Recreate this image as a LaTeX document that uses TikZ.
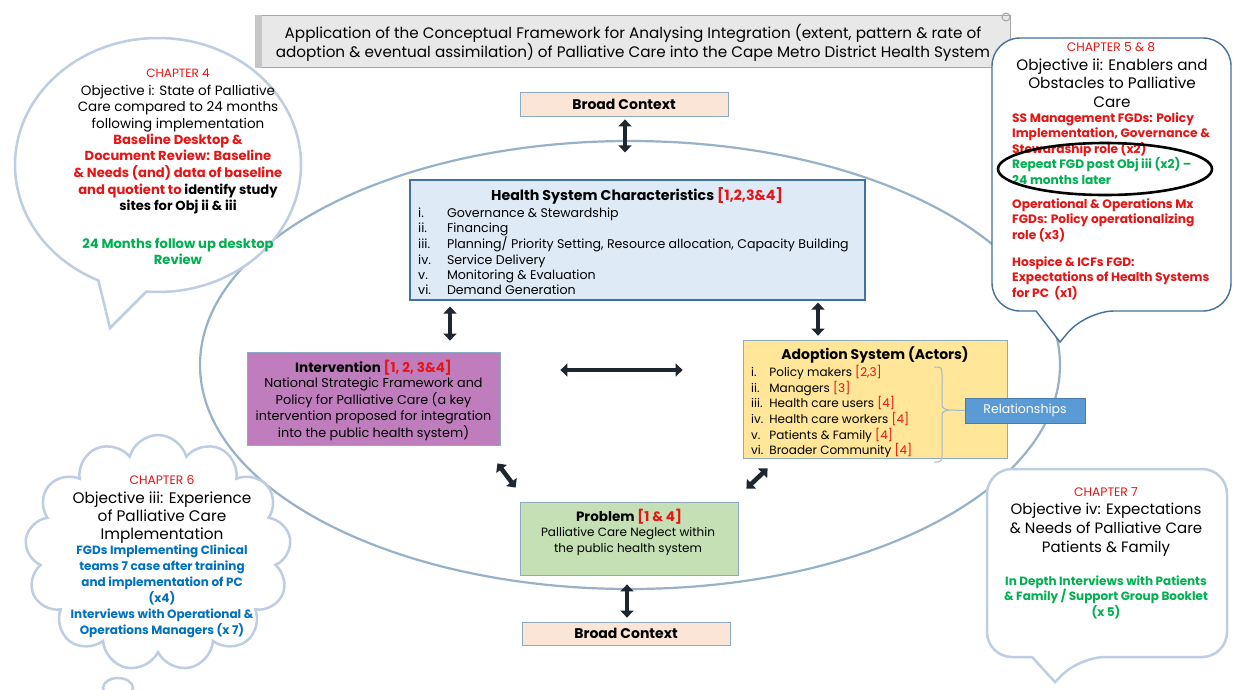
\documentclass[tikz,border=0pt]{standalone}
\usepackage{fontspec}
\setmainfont{Poppins}
\usetikzlibrary{shapes.callouts,shapes.symbols,arrows.meta,calc}
\definecolor{ptred}{RGB}{230,20,20}
\definecolor{ptgreen}{RGB}{0,176,80}
\definecolor{ptblue}{RGB}{0,112,192}
\definecolor{edgeblue}{RGB}{65,113,156}
\definecolor{softblue}{RGB}{190,205,225}
\definecolor{hsfill}{RGB}{222,235,247}
\definecolor{intfill}{RGB}{192,125,190}
\definecolor{adfill}{RGB}{255,230,153}
\definecolor{relfill}{RGB}{91,155,213}
\definecolor{probfill}{RGB}{197,224,180}
\definecolor{bcfill}{RGB}{251,229,214}
\definecolor{titlefill}{RGB}{232,232,232}
\definecolor{arrowdark}{RGB}{30,38,48}
\newcommand{\fsz}[2]{\fontsize{#1}{#2}\selectfont}
\begin{document}
\begin{tikzpicture}[x=1pt,y=-1pt,
  box/.style={draw=edgeblue!60, line width=0.8, inner sep=0pt},
  softbubble/.style={draw=softblue, line width=2.5, fill=white},
  strongbubble/.style={draw=edgeblue, line width=1.4, fill=white},
  dbl/.style={draw=arrowdark, line width=4.5, {Triangle[length=7pt,width=13pt]}-{Triangle[length=7pt,width=13pt]}},
  txt/.style={inner sep=0pt, align=center}
]
\useasboundingbox (0,0) rectangle (1233,689);
\fill[white] (0,0) rectangle (1233,689);

% big ellipse
\draw[edgeblue!55, line width=2.2] (630,365) ellipse [x radius=430, y radius=224];

% top-left bubble
\node[ellipse callout, softbubble, minimum width=286, minimum height=254, callout absolute pointer={(110,328)}, callout pointer arc=20] (bubA) at (158,165) {};
\node[txt, text=ptred, font=\fsz{12}{14}] (tlch) at (178,73) {CHAPTER 4};
\node[txt, font=\fsz{13.5}{16.7}] (tlobj) at (178,108.5) {Objective i: State of Palliative\\Care compared to 24 months\\following implementation};
\node[txt, text=ptred, font=\bfseries\fsz{13.1}{16.7}] (tlred) at (178,174) {Baseline Desktop \&\\Document Review: Baseline\\\& Needs (and) data of baseline\\and quotient to {\color{black}identify study}\\{\color{black}sites for Obj ii \& iii}};
\node[txt, text=ptgreen, font=\bfseries\fsz{13.1}{16.7}] (tlgreen) at (178,251.5) {24 Months follow up desktop\\Review};

% title scroll
\node[draw=gray!70, fill=titlefill, line width=1, minimum width=755, minimum height=52, anchor=north west, inner sep=0] (title) at (255,15) {};
\fill[gray!45] (title.north west) rectangle ($(title.south west)+(7,0)$);
\draw[gray!70, line width=1] ($(title.north east)+(-5,2)$) circle [radius=4];
\node[txt, font=\fsz{15.2}{19}] (titletxt) at (633,42.5) {Application of the Conceptual Framework for Analysing Integration (extent, pattern \& rate of\\adoption \& eventual assimilation) of Palliative Care into the Cape Metro District Health System};

% top-right bubble
\draw[strongbubble] (1060,342) -- (1036,311) [rounded corners=28] -- (992,311) -- (992,38) -- (1231,38) -- (1231,311) -- (1086,311) [sharp corners] -- cycle;
\node[txt, text=ptred, font=\fsz{12.3}{14}] (rch) at (1111,47) {CHAPTER 5 \& 8};
\node[txt, font=\fsz{15.2}{18.5}] (robj) at (1112,83) {Objective ii: Enablers and\\Obstacles to Palliative\\Care};
\node[inner sep=0pt, align=left, anchor=north west, text=ptred, font=\bfseries\fsz{12.2}{15.5}] (rlist) at (1012,112.5) {SS Management FGDs: Policy\\
  Implementation, Governance \&\\
  Stewardship role (x2)\\
  {\color{ptgreen}Repeat FGD post Obj iii (x2) –}\\
  {\color{ptgreen}24 months later}\\[8.5pt]
  Operational \& Operations Mx\\
  FGDs: Policy operationalizing\\
  role (x3)\\[11.5pt]
  Hospice \& ICFs FGD:\\
  Expectations of Health Systems\\
  for PC\ \ (x1)};
\draw[black, line width=2.6] (1105,169) ellipse [x radius=107, y radius=26];

% broad context top
\node[box, fill=bcfill, minimum width=208, minimum height=24, font=\bfseries\fsz{14}{15}] (bctop) at (624,104.5) {Broad Context};

% health system
\node[draw=edgeblue, line width=1.2, fill=hsfill, minimum width=455, minimum height=120, inner sep=0] (hs) at (637.5,240) {};
\node[txt, font=\bfseries\fsz{14.2}{16}] (hstitle) at (637,196) {Health System Characteristics {\color{ptred}[1,2,3\&4]}};
\node[inner sep=0pt, align=left, anchor=north west, font=\fsz{12.6}{15.2}] (hslist) at (418,206.5) {%
  \begin{tabular}{@{}l@{\hspace{16pt}}l@{}}
  i. & Governance \& Stewardship\\
  ii. & Financing\\
  iii. & Planning/ Priority Setting, Resource allocation, Capacity Building\\
  iv. & Service Delivery\\
  v. & Monitoring \& Evaluation\\
  vi. & Demand Generation
  \end{tabular}};

% intervention
\node[box, fill=intfill, minimum width=253, minimum height=93] (int) at (373.5,398.5) {};
\node[txt, font=\bfseries\fsz{13.5}{15}] (inttitle) at (373.5,368) {Intervention {\color{ptred}[1, 2, 3\&4]}};
\node[txt, font=\fsz{12.8}{16.5}] (intbody) at (373.5,409.5) {National Strategic Framework and\\Policy for Palliative Care (a key\\intervention proposed for integration\\into the public health system)};

% adoption system
\node[box, fill=adfill, minimum width=264, minimum height=118] (ad) at (875,399) {};
\node[txt, font=\bfseries\fsz{14}{16}] (adtitle) at (875,355) {Adoption System (Actors)};
\node[inner sep=0pt, align=left, anchor=north west, font=\fsz{12}{14.4}] (adlist) at (751,365.5) {%
  \begin{tabular}{@{}l@{\hspace{6pt}}l@{}}
  i. & Policy makers {\color{ptred}[2,3]}\\
  ii. & Managers {\color{ptred}[3]}\\
  iii. & Health care users {\color{ptred}[4]}\\
  iv. & Health care workers {\color{ptred}[4]}\\
  v. & Patients \& Family {\color{ptred}[4]}\\
  vi. & Broader Community {\color{ptred}[4]}
  \end{tabular}};
\draw[edgeblue!50, line width=1] (934,367) .. controls (942,367) .. (942,377) -- (942,402) .. controls (942,408) .. (948,410) .. controls (942,412) .. (942,418) -- (942,452) .. controls (942,462) .. (934,462);
\node[draw=relfill!80!black, line width=0.6, fill=relfill, minimum width=120, minimum height=25, text=white, inner sep=0, font=\fsz{12.5}{14}] (rel) at (1025,410.5) {Relationships};
\draw[edgeblue!50, line width=1] (948,410) -- (rel.west);

% problem
\node[box, fill=probfill, minimum width=218, minimum height=73] (prob) at (629,538.5) {};
\node[txt, font=\bfseries\fsz{13.5}{15}] (probtitle) at (629,517) {Problem {\color{ptred}[1 \& 4]}};
\node[txt, font=\fsz{12}{16}] (probbody) at (628,541) {Palliative Care Neglect within\\the public health system};

% broad context bottom
\node[box, fill=bcfill, minimum width=208, minimum height=23, font=\bfseries\fsz{14}{15}] (bcbot) at (626,633.5) {Broad Context};

% arrows
\draw[dbl] ($(bctop.south)+(1,2.5)$) -- ($(hs.north)+(-12.5,-27)$);
\draw[dbl] ($(hs.south)+(-187.5,6)$) -- ($(int.north)+(76.5,-11)$);
\draw[dbl] ($(hs.south)+(180.5,2)$) -- ($(ad.north)+(-57,-4)$);
\draw[dbl] ($(int.east)+(60,-28.5)$) -- ($(ad.west)+(-60,-29)$);
\draw[dbl] ($(int.south east)+(-3,18)$) -- ($(prob.north west)+(-4,-14)$);
\draw[dbl] ($(ad.south west)+(25,10)$) -- ($(prob.north east)+(8,-13)$);
\draw[dbl] ($(prob.south)+(-2,9)$) -- ($(bcbot.north)+(1,-4)$);

% bottom-left cloud
\node[cloud, softbubble, cloud puffs=13, cloud ignores aspect, minimum width=266, minimum height=236] (cloudC) at (158,553) {};
\draw[softblue, line width=2.5, fill=white] (118,688) ellipse [x radius=15, y radius=10];
\node[txt, text=ptred, font=\fsz{12.3}{14}] (blch) at (162,480) {CHAPTER 6};
\node[txt, font=\fsz{15.3}{18}] (blobj) at (162,518) {Objective iii: Experience\\of Palliative Care\\Implementation};
\node[txt, text=ptblue, font=\bfseries\fsz{12}{16}] (blblue) at (162,591) {FGDs Implementing Clinical\\teams 7 case after training\\and implementation of PC\\(x4)\\Interviews with Operational \&\\Operations Managers (x 7)};

% bottom-right bubble
\draw[softbubble] (1055,682) -- (1032,657) [rounded corners=25] -- (987,657) -- (987,469) -- (1227,469) -- (1227,657) -- (1080,657) [sharp corners] -- cycle;
\node[txt, text=ptred, font=\fsz{12.3}{14}] (brch) at (1106,492) {CHAPTER 7};
\node[txt, font=\fsz{15}{19}] (brobj) at (1106,530) {Objective iv: Expectations\\\& Needs of Palliative Care\\Patients \& Family};
\node[txt, text=ptgreen, font=\bfseries\fsz{12}{15.5}] (brgreen) at (1106,597) {In Depth Interviews with Patients\\\& Family / Support Group Booklet\\(x 5)};
\end{tikzpicture}
\end{document}
